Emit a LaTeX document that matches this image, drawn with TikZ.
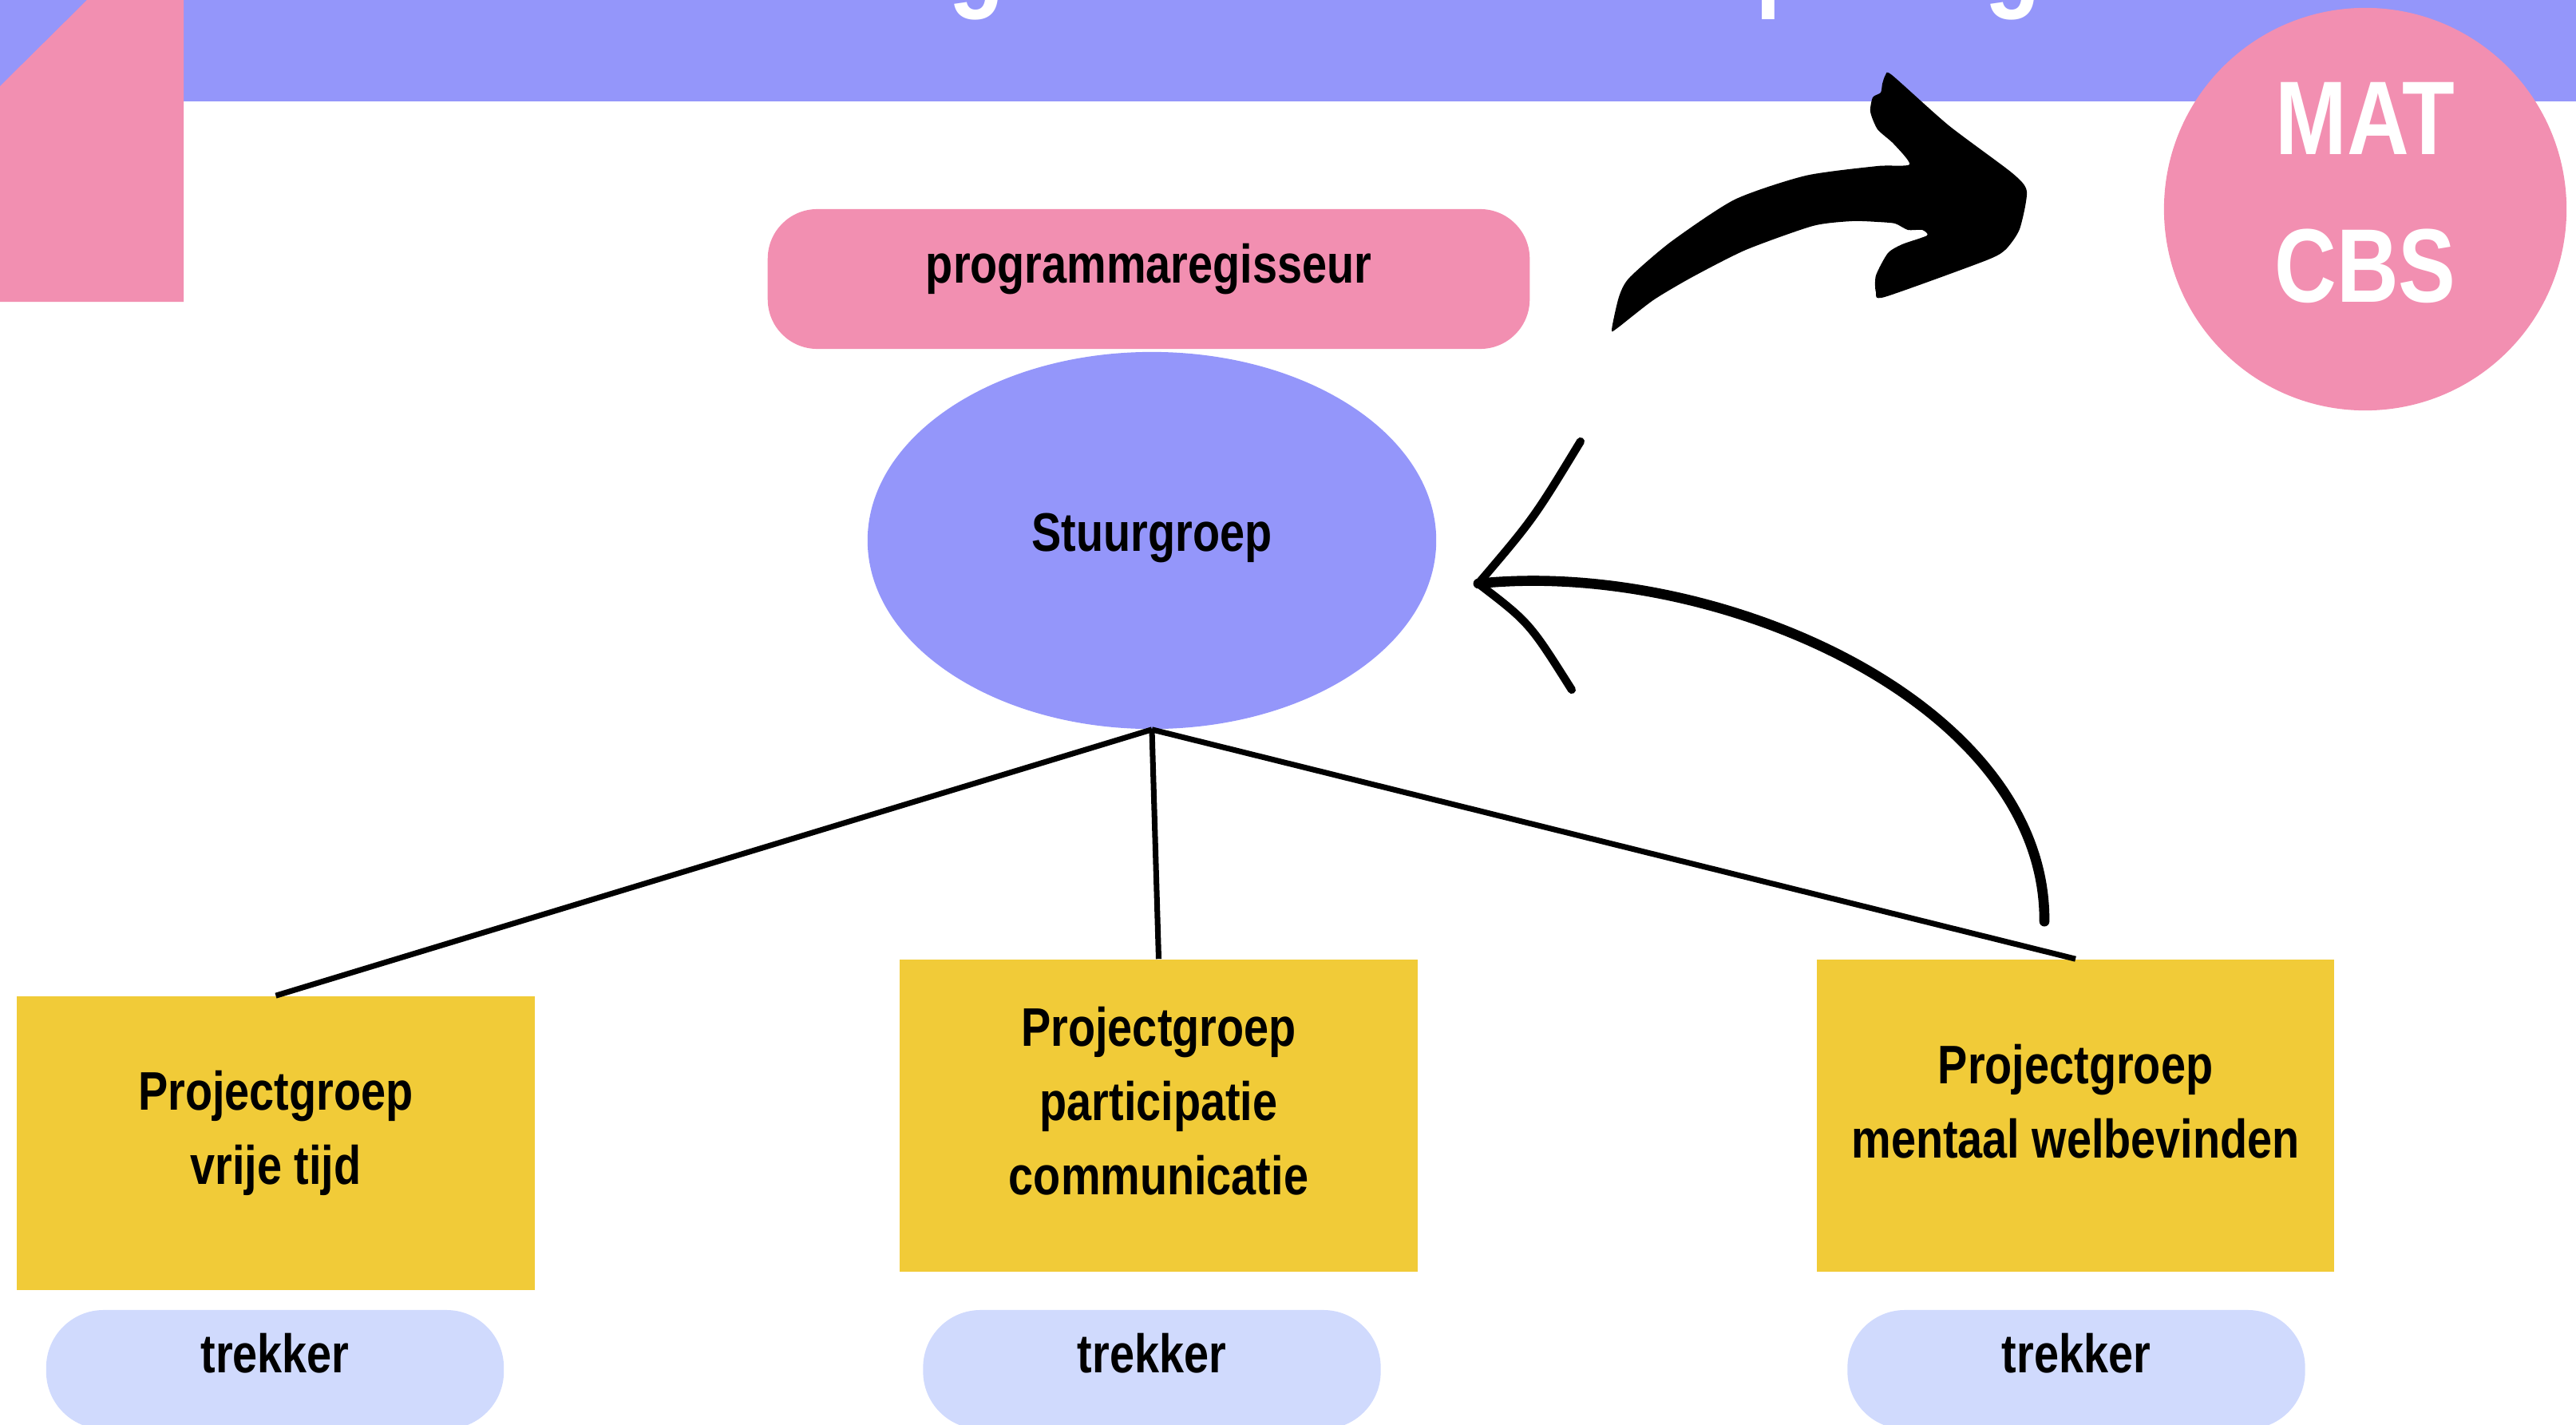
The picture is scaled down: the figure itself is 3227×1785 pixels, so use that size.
\documentclass[tikz,border=0pt]{standalone}
\usepackage{fontspec}
\setmainfont{Liberation Sans}[FakeStretch=0.82]
\usetikzlibrary{shapes.geometric,calc}
\definecolor{bandblue}{RGB}{148,150,250}
\definecolor{pinkc}{RGB}{242,143,177}
\definecolor{yellowc}{RGB}{241,203,56}
\definecolor{lavc}{RGB}{208,218,253}
\begin{document}
\begin{tikzpicture}[x=0.01cm,y=-0.01cm,
  txt/.style={font=\bfseries\fontsize{19.35pt}{26.5pt}\selectfont},
  pbox/.style={fill=yellowc, minimum width=6.48cm, inner sep=0, align=center, txt},
  pill/.style={fill=lavc, rounded corners=0.72cm, minimum width=5.73cm, minimum height=1.49cm, inner sep=0, text height=13.9pt, text depth=11.9pt, txt},
  conn/.style={line width=2pt},
  titlelet/.style={text=white, font=\bfseries\fontsize{39.8pt}{40pt}\selectfont, inner sep=0, anchor=base}]
\useasboundingbox (0,0) rectangle (3227,1785);
\clip (0,0) rectangle (3227,1785);
% header band and corner shape
\fill[bandblue] (0,0) rectangle (3227,127);
\fill[pinkc] (0,108) -- (109,0) -- (230,0) -- (230,378) -- (0,378) -- cycle;
% clipped title letters (only descenders visible)
\node[titlelet] (tg1) at (1224,-4) {g};
\node[titlelet] (tp) at (2235,-4) {p};
\node[titlelet] (tg2) at (2522,-4) {g};
% MAT CBS circle
\node[circle, fill=pinkc, minimum size=5.04cm, inner sep=0, text=white, align=center,
      font=\bfseries\fontsize{37.3pt}{52.6pt}\selectfont] (mat) at (2963,262)
      {MAT\\CBS\rule[-12.2pt]{0pt}{0pt}};
% programmaregisseur
\node[fill=pinkc, rounded corners=0.62cm, minimum width=9.54cm, minimum height=1.75cm, inner sep=0,
      text height=13.9pt, text depth=10.8pt, txt] (prog) at (1439,349.5) {programmaregisseur};
% Stuurgroep
\node[ellipse, fill=bandblue, minimum width=7.12cm, minimum height=4.72cm, inner sep=0,
      text height=13.9pt, text depth=6.5pt, txt] (st) at (1443,677) {Stuurgroep};
% project groups
\node[pbox, minimum height=3.68cm] (b1) at (345.5,1432) {Projectgroep\\vrije tijd\rule[-11.4pt]{0pt}{0pt}};
\node[pbox, minimum height=3.91cm] (b2) at (1451.5,1397.5) {Projectgroep\\participatie\\communicatie\rule[-10.5pt]{0pt}{0pt}};
\node[pbox, minimum height=3.91cm] (b3) at (2600,1397.5) {Projectgroep\\mentaal welbevinden\rule[-10.5pt]{0pt}{0pt}};
% connectors
\draw[conn] (st.south) -- (b1.north);
\draw[conn] (st.south) -- (b2.north);
\draw[conn] (st.south) -- (b3.north);
% trekker pills
\node[pill] (t1) at (344.5,1715.5) {trekker};
\node[pill] (t2) at (1443,1715.5) {trekker};
\node[pill] (t3) at (2601,1715.5) {trekker};
% thin hand-drawn arrow back to Stuurgroep
\coordinate (tail) at ($(b3.north)+(-39,-47)$);
\coordinate (tip) at ($(st.east)+(52,54)$);
\draw[line width=3.6pt, line cap=round] (tail) .. controls (2563,880) and (2150,700) .. (tip);
\draw[line width=2.9pt, line cap=round] (tip) .. controls ($(tip)+(69,-81)$) .. ($(tip)+(128,-178)$);
\draw[line width=2.9pt, line cap=round] (tip) .. controls ($(tip)+(64,49)$) .. ($(tip)+(117,133)$);
% thick brush arrow towards MAT CBS
\fill[black] plot[smooth cycle, tension=0.4] coordinates {
 (2019,413) (2028,372) (2041,348) (2093,303) (2173,250) (2262,220) (2352,208) (2392,206)
 (2372,180) (2352,162) (2343,140) (2346,122) (2356,116) (2358,105) (2362,94) (2370,94)
 (2441,157) (2521,217) (2539,240) (2530,287) (2512,313) (2486,327) (2361,372) (2350,366)
 (2350,345) (2365,317) (2383,306) (2414,295) (2408,288) (2390,288) (2374,280) (2352,278)
 (2320,277) (2271,283) (2187,313) (2120,347) (2071,376) (2026,411)};
\end{tikzpicture}
\end{document}
